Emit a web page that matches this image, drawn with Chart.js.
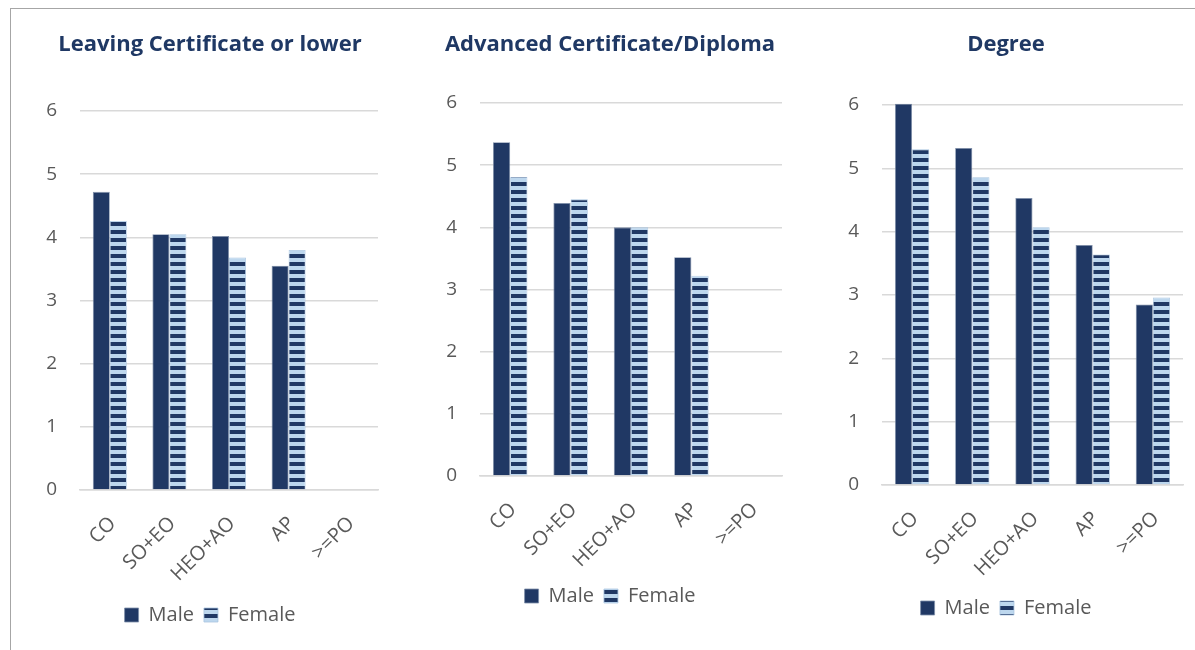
<!DOCTYPE html>
<html>
<head>
<meta charset="utf-8">
<script src="https://cdn.jsdelivr.net/npm/chart.js@4"></script>
<style>
  body { margin: 0; background: #fff; width: 1195px; height: 650px; overflow: hidden; position: relative; }
  .frame { position: absolute; left: 10px; top: 8px; width: 1190px; height: 650px;
           border-top: 1.5px solid #a6a6a6; border-left: 1.5px solid #a6a6a6; }
  canvas { position: absolute; }
</style>
</head>
<body>
<div class="frame"></div>
<canvas id="c1"></canvas>
<canvas id="c2"></canvas>
<canvas id="c3"></canvas>
<script>
// data
const categories = ['CO', 'SO+EO', 'HEO+AO', 'AP', '>=PO'];
const seriesNames = ['Male', 'Female'];
const titles = ['Leaving Certificate or lower', 'Advanced Certificate/Diploma', 'Degree'];
const leavingMale = [4.72, 4.05, 4.02, 3.55, null];
const leavingFemale = [4.26, 4.05, 3.68, 3.80, null];
const advancedMale = [5.37, 4.39, 4.00, 3.52, null];
const advancedFemale = [4.81, 4.45, 4.00, 3.22, null];
const degreeMale = [6.02, 5.32, 4.53, 3.79, 2.85];
const degreeFemale = [5.30, 4.86, 4.07, 3.64, 2.96];
const yMin = 0, yMax = 6, yStep = 1;

const NAVY = '#203864';
const LIGHT = '#BDD7EE';
const GRID = '#D9D9D9';
const TEXT = '#595959';
const FONT = "'Open Sans', sans-serif";

function stripes() {
  const c = document.createElement('canvas');
  c.width = 8; c.height = 8;
  const g = c.getContext('2d');
  g.fillStyle = LIGHT; g.fillRect(0, 0, 8, 8);
  g.fillStyle = NAVY; g.fillRect(0, 4, 8, 4);
  return g.createPattern(c, 'repeat');
}

// panel placement on the page
const panels = [
  { id: 'c1', title: titles[0], male: leavingMale, female: leavingFemale,
    left: 12, top: 10, width: 396, plotLeft: 80, plotRight: 378, plotTop: 111, plotBottom: 490, titleY: 45, legendY: 615 },
  { id: 'c2', title: titles[1], male: advancedMale, female: advancedFemale,
    left: 412, top: 10, width: 396, plotLeft: 480, plotRight: 782, plotTop: 103, plotBottom: 476, titleY: 45, legendY: 596 },
  { id: 'c3', title: titles[2], male: degreeMale, female: degreeFemale,
    left: 817, top: 10, width: 378, plotLeft: 882, plotRight: 1183, plotTop: 105, plotBottom: 485, titleY: 45, legendY: 608 }
];

const titleSize = 22;
const legendSize = 20;
const yTickSize = 19;
const xTickSize = 20;

panels.forEach(p => {
  const cv = document.getElementById(p.id);
  const height = p.legendY + 20 - p.top;
  cv.width = p.width; cv.height = height;
  cv.style.left = p.left + 'px'; cv.style.top = p.top + 'px';

  const lh = titleSize * 1.2;
  const padTop = p.titleY - p.top - lh / 2;
  const padBottom = p.plotTop - p.titleY - lh / 2;

  new Chart(cv.getContext('2d'), {
    type: 'bar',
    data: {
      labels: categories,
      datasets: [
        { label: seriesNames[0], data: p.male, backgroundColor: NAVY, borderColor: '#7f8fa9', borderWidth: 0.8, clip: 10 },
        { label: seriesNames[1], data: p.female, backgroundColor: stripes(), borderColor: '#a9c4e0', borderWidth: 0.8, clip: 10 }
      ]
    },
    options: {
      responsive: false,
      devicePixelRatio: 1,
      animation: false,
      layout: { padding: 0 },
      datasets: { bar: { categoryPercentage: 0.57, barPercentage: 1.0 } },
      plugins: {
        title: {
          display: true, text: p.title, color: '#1F3864',
          font: { family: FONT, size: titleSize, weight: 'bold' },
          padding: { top: padTop, bottom: padBottom }
        },
        legend: {
          position: 'bottom',
          labels: {
            color: TEXT, boxWidth: 14, boxHeight: 14, padding: 10,
            font: { family: FONT, size: legendSize }
          }
        },
        tooltip: { enabled: false }
      },
      scales: {
        x: {
          grid: { display: false },
          border: { display: true, color: GRID, width: 1.5 },
          ticks: { color: TEXT, font: { family: FONT, size: xTickSize }, minRotation: 45, maxRotation: 45, autoSkip: false, padding: 14, labelOffset: 3 },
          afterFit: s => { s.height = p.legendY - 20 - p.plotBottom; }
        },
        y: {
          min: yMin, max: yMax,
          grid: { color: GRID, lineWidth: 1.5, drawTicks: false },
          border: { display: false },
          ticks: { stepSize: yStep, color: TEXT, font: { family: FONT, size: yTickSize }, padding: 23 },
          afterFit: s => { s.width = p.plotLeft - p.left; }
        },
        yR: {
          position: 'right', type: 'linear', display: true,
          grid: { display: false }, border: { display: false },
          ticks: { display: false },
          afterFit: s => { s.width = p.left + p.width - p.plotRight; }
        }
      }
    }
  });
});
</script>
</body>
</html>
